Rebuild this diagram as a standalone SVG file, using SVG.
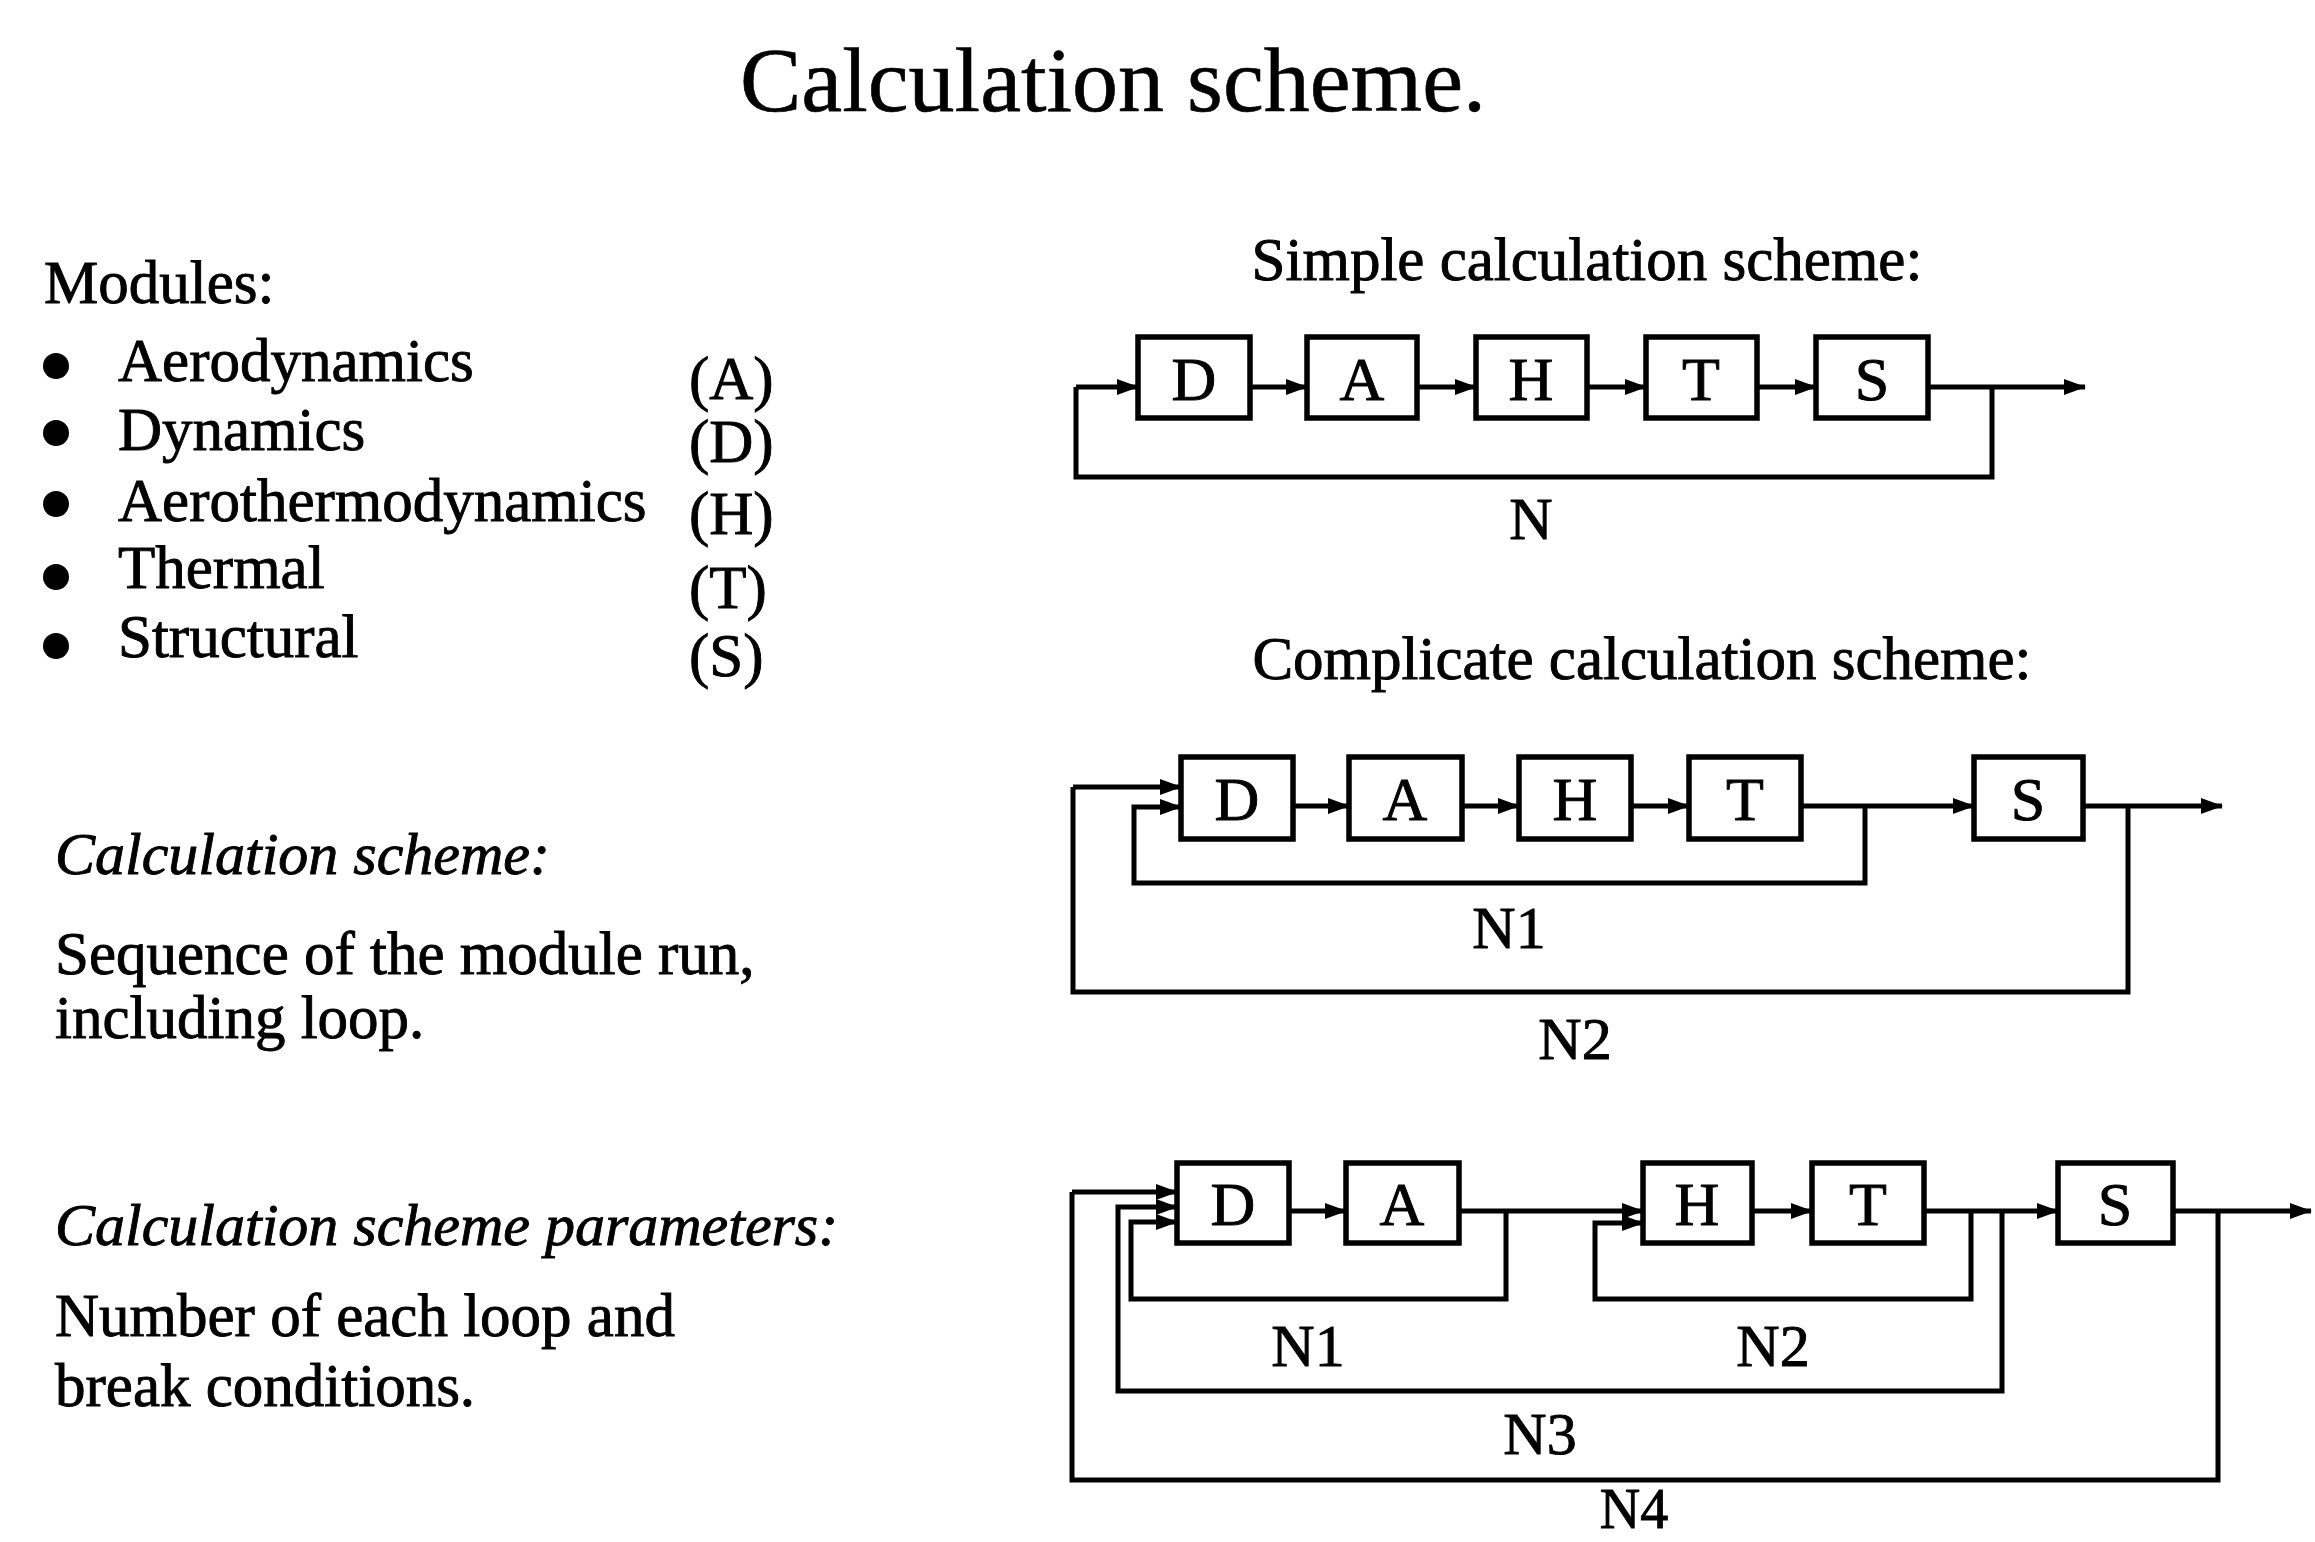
<svg xmlns="http://www.w3.org/2000/svg" width="2315" height="1542" viewBox="0 0 2315 1542">
<style>
text{font-family:"Liberation Serif","Times New Roman",serif;fill:#000;stroke:#000;stroke-width:0.9}
.t{font-size:61px}
.it{font-size:60px;font-style:italic}
.title{font-size:92px;stroke-width:0.6}
.lbl{font-size:62px;text-anchor:middle}
.nl{font-size:60px;text-anchor:middle}
.box rect{fill:#fff;stroke:#000;stroke-width:5.5}
.c path{fill:none;stroke:#000;stroke-width:5}
</style>
<defs>
<marker id="ah" markerUnits="userSpaceOnUse" markerWidth="22" markerHeight="16" refX="21" refY="8" orient="auto"><path d="M0,0 L22,8 L0,16 z" fill="#000"/></marker>
</defs>
<rect width="2315" height="1542" fill="#fff"/>
<text class="title" x="1113" y="111" text-anchor="middle">Calculation scheme.</text>

<g id="legend">
<text class="t" x="44" y="303">Modules:</text>
<circle cx="56" cy="366" r="13"/>
<circle cx="56" cy="433" r="13"/>
<circle cx="56" cy="504" r="13"/>
<circle cx="56" cy="577" r="13"/>
<circle cx="56" cy="646" r="13"/>
<text class="t" x="118" y="381">Aerodynamics</text>
<text class="t" x="118" y="450">Dynamics</text>
<text class="t" x="118" y="521">Aerothermodynamics</text>
<text class="t" x="118" y="588">Thermal</text>
<text class="t" x="118" y="657">Structural</text>
<text class="t" x="689" y="399">(A)</text>
<text class="t" x="689" y="462">(D)</text>
<text class="t" x="689" y="534">(H)</text>
<text class="t" x="689" y="608">(T)</text>
<text class="t" x="689" y="676">(S)</text>
<text class="it" x="55" y="874">Calculation scheme:</text>
<text class="t" x="55" y="974">Sequence of the module run,</text>
<text class="t" x="55" y="1038">including loop.</text>
<text class="it" x="55" y="1245">Calculation scheme parameters:</text>
<text class="t" x="55" y="1336">Number of each loop and</text>
<text class="t" x="55" y="1406">break conditions.</text>
</g>

<text class="t" x="1587" y="280" text-anchor="middle">Simple calculation scheme:</text>
<text class="t" x="1642" y="679" text-anchor="middle">Complicate calculation scheme:</text>

<g id="connectors" class="c">
<path d="M1076,387 H1138" marker-end="url(#ah)"/>
<path d="M1250,387 H1307" marker-end="url(#ah)"/>
<path d="M1417,387 H1476" marker-end="url(#ah)"/>
<path d="M1587,387 H1646" marker-end="url(#ah)"/>
<path d="M1757,387 H1816" marker-end="url(#ah)"/>
<path d="M1928,387 H2085" marker-end="url(#ah)"/>
<path d="M1992,387 V477 H1076 V387"/>
<path d="M1073,787 H1181" marker-end="url(#ah)"/>
<path d="M2128,806 V992 H1073 V787"/>
<path d="M1865,806 V883 H1134 V807 H1181" marker-end="url(#ah)"/>
<path d="M1293,806 H1349" marker-end="url(#ah)"/>
<path d="M1462,806 H1519" marker-end="url(#ah)"/>
<path d="M1631,806 H1689" marker-end="url(#ah)"/>
<path d="M1801,806 H1974" marker-end="url(#ah)"/>
<path d="M2083,806 H2222" marker-end="url(#ah)"/>
<path d="M1072,1192 H1177" marker-end="url(#ah)"/>
<path d="M2218,1211 V1480 H1072 V1192"/>
<path d="M2002,1211 V1391 H1118 V1207 H1177" marker-end="url(#ah)"/>
<path d="M1506,1211 V1299 H1131 V1222 H1177" marker-end="url(#ah)"/>
<path d="M1971,1211 V1299 H1595 V1223 H1643" marker-end="url(#ah)"/>
<path d="M1289,1211 H1346" marker-end="url(#ah)"/>
<path d="M1459,1211 H1643" marker-end="url(#ah)"/>
<path d="M1752,1211 H1812" marker-end="url(#ah)"/>
<path d="M1924,1211 H2058" marker-end="url(#ah)"/>
<path d="M2173,1211 H2311" marker-end="url(#ah)"/>
</g>

<g id="s1-D" class="box"><rect x="1138" y="337" width="112" height="81"/><text class="lbl" x="1194" y="400">D</text></g>
<g id="s1-A" class="box"><rect x="1307" y="337" width="110" height="81"/><text class="lbl" x="1362" y="400">A</text></g>
<g id="s1-H" class="box"><rect x="1476" y="337" width="111" height="81"/><text class="lbl" x="1531" y="400">H</text></g>
<g id="s1-T" class="box"><rect x="1646" y="337" width="111" height="81"/><text class="lbl" x="1701" y="400">T</text></g>
<g id="s1-S" class="box"><rect x="1816" y="337" width="112" height="81"/><text class="lbl" x="1872" y="400">S</text></g>
<text class="nl" x="1531" y="539">N</text>

<g id="s2-D" class="box"><rect x="1181" y="757" width="112" height="82"/><text class="lbl" x="1237" y="820">D</text></g>
<g id="s2-A" class="box"><rect x="1349" y="757" width="113" height="82"/><text class="lbl" x="1405" y="820">A</text></g>
<g id="s2-H" class="box"><rect x="1519" y="757" width="112" height="82"/><text class="lbl" x="1575" y="820">H</text></g>
<g id="s2-T" class="box"><rect x="1689" y="757" width="112" height="82"/><text class="lbl" x="1745" y="820">T</text></g>
<g id="s2-S" class="box"><rect x="1974" y="757" width="109" height="82"/><text class="lbl" x="2028" y="820">S</text></g>
<text class="nl" x="1509" y="948">N1</text>
<text class="nl" x="1575" y="1059">N2</text>

<g id="s3-D" class="box"><rect x="1177" y="1163" width="112" height="80"/><text class="lbl" x="1233" y="1225">D</text></g>
<g id="s3-A" class="box"><rect x="1346" y="1163" width="113" height="80"/><text class="lbl" x="1402" y="1225">A</text></g>
<g id="s3-H" class="box"><rect x="1643" y="1163" width="109" height="80"/><text class="lbl" x="1697" y="1225">H</text></g>
<g id="s3-T" class="box"><rect x="1812" y="1163" width="112" height="80"/><text class="lbl" x="1868" y="1225">T</text></g>
<g id="s3-S" class="box"><rect x="2058" y="1163" width="115" height="80"/><text class="lbl" x="2115" y="1225">S</text></g>
<text class="nl" x="1308" y="1366">N1</text>
<text class="nl" x="1773" y="1366">N2</text>
<text class="nl" x="1540" y="1454">N3</text>
<text class="nl" x="1634" y="1528" style="font-size:56px">N4</text>
</svg>
